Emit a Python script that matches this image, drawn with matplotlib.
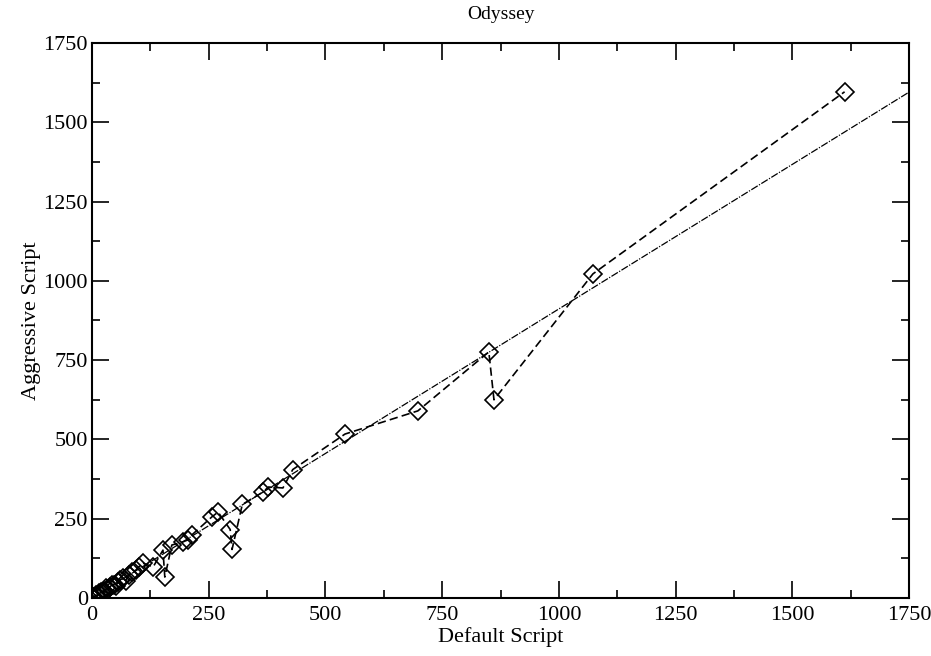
import matplotlib
matplotlib.use("Agg")
import matplotlib.pyplot as plt
from matplotlib.ticker import MultipleLocator

# Run times per benchmark: default vs aggressive script
default_script = [2, 5, 8, 12, 15, 18, 20, 25, 28, 30, 35, 38, 42, 47, 52, 55,
                  60, 66, 72, 79, 86, 94, 100, 109, 131, 152, 156, 171, 195,
                  205, 214, 257, 270, 296, 300, 322, 366, 378, 409, 430, 542,
                  698, 850, 861, 1073, 1612]
aggressive_script = [3, 2, 9, 6, 16, 12, 20, 22, 18, 32, 28, 35, 40, 41, 38, 50,
                     57, 62, 55, 73, 82, 88, 98, 110, 98, 151, 66, 167, 177,
                     183, 199, 256, 271, 216, 153, 295, 334, 350, 347, 405, 517,
                     590, 776, 625, 1022, 1596]

# Linear trend line
trend_x = [0, 1750]
trend_y = [0, 1595]

x_ticks = [0, 250, 500, 750, 1000, 1250, 1500, 1750]
y_ticks = [0, 250, 500, 750, 1000, 1250, 1500, 1750]

plt.rcParams['font.family'] = ['Liberation Serif', 'DejaVu Serif']

fig = plt.figure(figsize=(9.31, 6.56), dpi=100)
ax = fig.add_axes([0.0988, 0.0884, 0.8776, 0.8461])

ax.plot(trend_x, trend_y, color='black', linestyle=(0, (6, 1.2, 1, 1.2)),
        linewidth=0.9)
ax.plot(default_script, aggressive_script, color='black', linestyle=(0, (5, 2.5)),
        linewidth=1.2, marker='D', markersize=9, markerfacecolor='none',
        markeredgecolor='black', markeredgewidth=1.2)

ax.set_xlim(0, 1750)
ax.set_ylim(0, 1750)
ax.set_xticks(x_ticks)
ax.set_yticks(y_ticks)
ax.xaxis.set_minor_locator(MultipleLocator(125))
ax.yaxis.set_minor_locator(MultipleLocator(125))
ax.tick_params(which='both', direction='in', top=True, right=True,
               labelsize=16, width=1.2)
ax.tick_params(axis='x', pad=6)
ax.tick_params(axis='y', pad=3)
ax.tick_params(which='major', length=12)
ax.tick_params(which='minor', length=6)
for s in ax.spines.values():
    s.set_linewidth(1.5)

ax.set_xlabel('Default Script', fontsize=16, labelpad=1)
ax.set_ylabel('Aggressive Script', fontsize=16, labelpad=2)
ax.set_title('Odyssey', fontsize=14, pad=17)

fig.savefig('out.png', dpi=100)
